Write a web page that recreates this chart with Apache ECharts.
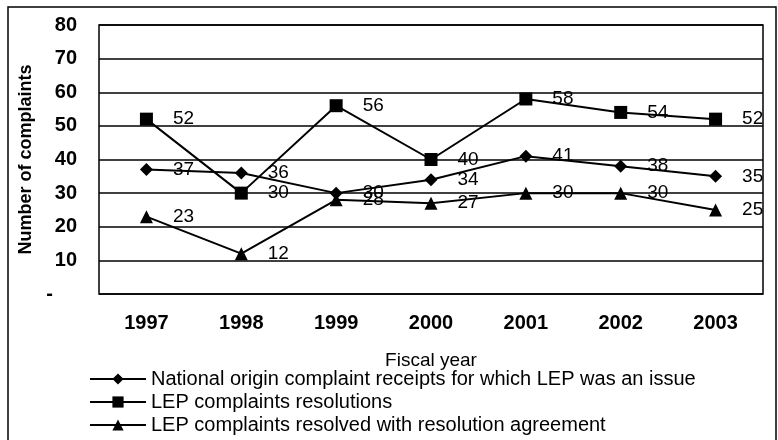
<!DOCTYPE html>
<html>
<head>
<meta charset="utf-8">
<script src="https://cdn.jsdelivr.net/npm/echarts@6/dist/echarts.min.js"></script>
<style>
  html, body { margin: 0; padding: 0; background: #fff; }
  #chart { width: 778px; height: 440px; }
</style>
</head>
<body>
<div id="chart"></div>
<script>
// Fiscal years on the x axis
const years = ['1997', '1998', '1999', '2000', '2001', '2002', '2003']

// Series values
const nationalOrigin = [37, 36, 30, 34, 41, 38, 35]
const lepResolutions = [52, 30, 56, 40, 58, 54, 52]
const lepAgreements = [23, 12, 28, 27, 30, 30, 25]

const seriesNames = [
  'National origin complaint receipts for which LEP was an issue',
  'LEP complaints resolutions',
  'LEP complaints resolved with resolution agreement',
]

const FONT = 'Liberation Sans, Arial, sans-serif'

const chart = echarts.init(document.getElementById('chart'))

/**
 * Build one black line series
 */
function makeSeries(name, data, symbol, size) {
  return {
    name,
    type: 'line',
    data,
    symbol,
    symbolSize: size,
    showAllSymbol: true,
    lineStyle: { color: '#000', width: 2 },
    itemStyle: { color: '#000' },
    label: {
      show: true,
      position: 'right',
      distance: 20,
      color: '#000',
      fontFamily: FONT,
      fontSize: 19,
    },
    emphasis: { disabled: true },
  }
}

const option = {
  animation: false,
  backgroundColor: '#fff',
  grid: {
    left: 99,
    right: 15,
    top: 25,
    bottom: 146,
    show: true,
    borderColor: '#000',
    borderWidth: 1.5,
  },
  xAxis: {
    type: 'category',
    data: years,
    name: 'Fiscal year',
    nameLocation: 'middle',
    nameGap: 57,
    nameTextStyle: { color: '#000', fontFamily: FONT, fontSize: 19 },
    axisLine: { show: false },
    axisTick: { show: false },
    axisLabel: {
      color: '#000',
      fontFamily: FONT,
      fontSize: 20,
      fontWeight: 'bold',
      margin: 19,
    },
  },
  yAxis: {
    type: 'value',
    min: 0,
    max: 80,
    interval: 10,
    name: 'Number of complaints',
    nameLocation: 'middle',
    nameGap: 64,
    nameTextStyle: { color: '#000', fontFamily: FONT, fontSize: 18, fontWeight: 'bold' },
    axisLine: { show: false },
    axisTick: { show: false },
    splitLine: { lineStyle: { color: '#000', width: 1.5 } },
    axisLabel: {
      color: '#000',
      fontFamily: FONT,
      fontSize: 20,
      fontWeight: 'bold',
      margin: 22,
      formatter: (v) => (v === 0 ? '{d|-}' : String(v)),
      rich: {
        d: { fontSize: 20, fontWeight: 'bold', color: '#000', padding: [0, 24, 0, 0] },
      },
    },
  },
  legend: {
    orient: 'vertical',
    left: 89,
    top: 369,
    height: 70,
    padding: 0,
    itemGap: 3,
    itemWidth: 56,
    itemHeight: 14,
    data: seriesNames,
    textStyle: { color: '#000', fontFamily: FONT, fontSize: 20 },
    selectedMode: false,
  },
  graphic: [
    {
      type: 'rect',
      shape: { x: 8, y: 7, width: 768, height: 440 },
      style: { fill: 'none', stroke: '#000', lineWidth: 1.5 },
      silent: true,
    },
  ],
  series: [
    makeSeries(seriesNames[0], nationalOrigin, 'diamond', 13),
    makeSeries(seriesNames[1], lepResolutions, 'rect', 13),
    makeSeries(seriesNames[2], lepAgreements, 'triangle', 13),
  ],
}

chart.setOption(option)
</script>
</body>
</html>
